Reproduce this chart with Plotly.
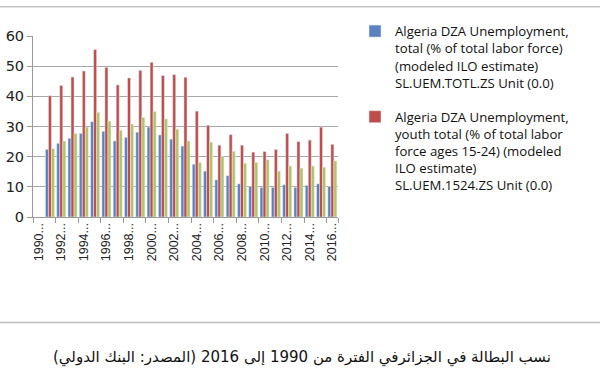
import plotly.graph_objects as go

years = [str(y) for y in range(1990, 2017)]
tick_years = years[::2]
tick_labels = [y + "..." for y in tick_years]

total = [None, 22.4, 24.4, 26.1, 27.7, 31.6, 28.4, 25.2, 26.4, 28.1, 29.8, 27.2, 25.8, 23.5,
         17.5, 15.2, 12.3, 13.7, 11.0, 10.1, 9.8, 9.8, 10.7, 9.8, 10.5, 11.0, 10.1]
youth = [None, 40.2, 43.6, 46.4, 48.4, 55.5, 49.6, 43.8, 46.1, 48.6, 51.3, 46.9, 47.2, 46.3,
         35.1, 30.4, 23.8, 27.3, 23.8, 21.5, 21.7, 22.4, 27.7, 25.0, 25.5, 29.8, 24.1]
third = [None, 22.7, 25.2, 27.7, 29.8, 34.7, 31.8, 28.7, 30.8, 33.0, 35.0, 32.5, 29.1, 25.2,
         18.1, 24.8, 20.1, 21.8, 17.8, 18.1, 19.0, 15.2, 16.9, 16.2, 16.9, 16.5, 18.6]

name_total = ("Algeria DZA Unemployment,<br>total (% of total labor force)<br>"
              "(modeled ILO estimate)<br>SL.UEM.TOTL.ZS Unit (0.0)")
name_youth = ("Algeria DZA Unemployment,<br>youth total (% of total labor<br>"
              "force ages 15-24) (modeled<br>ILO estimate)<br>SL.UEM.1524.ZS Unit (0.0)")
name_third = "Series 3"

caption = "نسب البطالة في الجزائرفي الفترة من 1990 إلى 2016 (المصدر: البنك الدولي)"

fig = go.Figure()
fig.add_trace(go.Bar(x=years, y=total, name=name_total, marker_color="#5A82C0",
                     legendgroup="a"))
fig.add_trace(go.Bar(x=years, y=youth, name=name_youth, marker_color="#BF4D4A",
                     legendgroup="b"))
fig.add_trace(go.Bar(x=years, y=third, name=name_third, marker_color="#B3C266",
                     legendgroup="c", showlegend=False))

# plot area: x 33..338 px, y 36..217 px
L, R, T, B = 33, 338, 36, 217
W, H = 600, 380
pw, ph = R - L, B - T

def px(xp):
    return (xp - L) / pw

def py(yp):
    return (B - yp) / ph

fig.update_layout(
    width=W, height=H,
    margin=dict(l=L, r=W - R, t=T, b=H - B, autoexpand=False),
    paper_bgcolor="white", plot_bgcolor="white",
    barmode="group", bargap=0.2, bargroupgap=0,
    font=dict(family="DejaVu Sans", color="#222222"),
    showlegend=True,
    legend=dict(
        x=px(355), y=py(16), xanchor="left", yanchor="top",
        font=dict(family="Open Sans", size=13.2, color="#111111"),
        valign="top", traceorder="grouped", tracegroupgap=14,
        bgcolor="rgba(0,0,0,0)",
    ),
    xaxis=dict(
        type="category", categoryorder="array", categoryarray=years,
        range=[-0.5, len(years) - 0.5],
        tickmode="array", tickvals=tick_years, ticktext=tick_labels,
        tickangle=-90, tickson="boundaries",
        tickfont=dict(family="Liberation Sans", size=12.5, color="#222222"),
        ticks="outside", ticklen=5, tickcolor="#999999",
        showline=True, linecolor="#999999", linewidth=1,
        showgrid=False, zeroline=False,
    ),
    yaxis=dict(
        range=[0, 60], tickmode="linear", tick0=0, dtick=10,
        tickfont=dict(family="DejaVu Sans", size=14.5, color="#222222"),
        ticks="outside", ticklen=5, tickcolor="#999999",
        showline=True, linecolor="#999999", linewidth=1,
        showgrid=True, gridcolor="#A8A8A8", gridwidth=1.3,
        zeroline=False,
    ),
    shapes=[
        dict(type="line", xref="paper", yref="paper", x0=px(0), x1=px(600),
             y0=py(6.7), y1=py(6.7), line=dict(color="#C4C4C4", width=1.5)),
        dict(type="line", xref="paper", yref="paper", x0=px(0), x1=px(600),
             y0=py(322.5), y1=py(322.5), line=dict(color="#BDBDBD", width=1.5)),
    ],
    annotations=[
        dict(text=caption, xref="paper", yref="paper", x=px(302), y=py(357),
             xanchor="center", yanchor="middle", showarrow=False,
             font=dict(family="DejaVu Sans", size=15, color="#111111")),
    ],
)

fig.write_html("out.html", config={"displayModeBar": False},
               post_script="document.body.style.margin='0px';")
